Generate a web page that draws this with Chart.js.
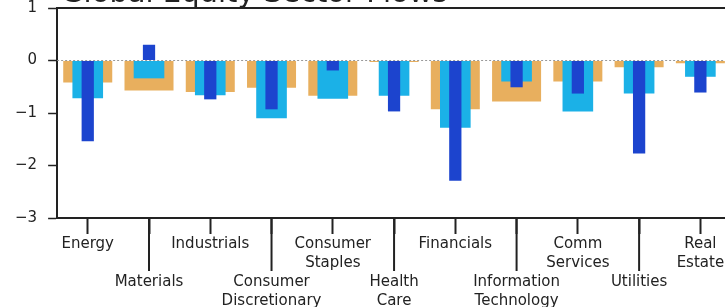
<!DOCTYPE html>
<html lang="en">
<head>
    <meta charset="UTF-8">
    <title>Global Equity Sector Flows</title>
    <script src="https://cdn.jsdelivr.net/npm/chart.js"></script>
    <style>
        html, body { margin: 0; padding: 0; background: #fff; overflow: hidden; width: 725px; height: 307px; }
        #wrap { position: absolute; left: 0; top: -30px; width: 770px; height: 345px; }
    </style>
</head>
<body>
    <div id="wrap"><canvas id="myChart" width="770" height="345"></canvas></div>
    <script>
        const titleText = "Global Equity Sector Flows";
        const categories = ["Energy", "Materials", "Industrials", "Consumer Discretionary", "Consumer Staples",
            "Health Care", "Financials", "Information Technology", "Comm Services", "Utilities", "Real Estate"];
        const wideValues = [-0.42, -0.57, -0.60, -0.52, -0.67, -0.03, -0.93, -0.78, -0.40, -0.13, -0.05];
        const midValues = [-0.72, -0.34, -0.66, -1.10, -0.73, -0.67, -1.28, -0.40, -0.97, -0.63, -0.31];
        const narrowValues = [-1.54, 0.30, -0.74, -0.93, -0.19, -0.97, -2.29, -0.51, -0.63, -1.77, -0.61];
        const yTicks = [1, 0, -1, -2, -3];

        const axisColor = "#222";

        // top spine, dotted zero line, long ticks for the second label row, title
        const extras = {
            id: "extras",
            beforeDatasetsDraw(chart) {
                const { ctx, chartArea, scales } = chart;
                const y0 = scales.y.getPixelForValue(0);
                ctx.save();
                ctx.strokeStyle = "#999";
                ctx.lineWidth = 1;
                ctx.setLineDash([2, 2]);
                ctx.beginPath();
                ctx.moveTo(chartArea.left, y0);
                ctx.lineTo(chartArea.right, y0);
                ctx.stroke();
                ctx.restore();
            },
            afterDraw(chart) {
                const { ctx, chartArea, scales } = chart;
                const x = scales.x;
                ctx.save();
                ctx.strokeStyle = axisColor;
                ctx.lineWidth = 2;
                ctx.beginPath();
                ctx.moveTo(chartArea.left - 1, chartArea.top);
                ctx.lineTo(chartArea.right, chartArea.top);
                ctx.stroke();
                x.ticks.forEach((t, i) => {
                    if (i % 2 === 1) {
                        const px = x.getPixelForTick(i);
                        ctx.beginPath();
                        ctx.moveTo(px, x.top);
                        ctx.lineTo(px, x.top + 53);
                        ctx.stroke();
                    }
                });
                ctx.fillStyle = axisColor;
                ctx.font = "29px 'DejaVu Sans'";
                ctx.textAlign = "left";
                ctx.textBaseline = "alphabetic";
                ctx.fillText(titleText, chartArea.left + 4, chartArea.top - 6);
                ctx.restore();
            }
        };

        const ctx = document.getElementById("myChart").getContext("2d");
        new Chart(ctx, {
            type: "bar",
            data: {
                labels: categories,
                datasets: [
                    { label: "Wide", data: wideValues, backgroundColor: "#E8AF5E", barPercentage: 0.8, order: 3 },
                    { label: "Mid", data: midValues, backgroundColor: "#1BB1E7", barPercentage: 0.5, order: 2 },
                    { label: "Narrow", data: narrowValues, backgroundColor: "#1C44CE", barPercentage: 0.2, order: 1 }
                ]
            },
            options: {
                responsive: false,
                animation: false,
                datasets: { bar: { grouped: false, categoryPercentage: 1, borderWidth: 0 } },
                layout: { padding: { top: 38, left: 4, right: 39, bottom: 4 } },
                plugins: {
                    legend: { display: false },
                    tooltip: { enabled: false },
                    title: { display: false }
                },
                scales: {
                    x: {
                        offset: true,
                        border: { display: true, color: axisColor, width: 2 },
                        grid: { display: true, offset: false, drawOnChartArea: false, drawTicks: true, tickLength: 16, tickColor: axisColor, tickWidth: 2 },
                        ticks: {
                            autoSkip: false,
                            maxRotation: 0,
                            minRotation: 0,
                            padding: 1,
                            color: axisColor,
                            font: { family: "DejaVu Sans", size: 15, lineHeight: 1.25 },
                            callback: function(value, index) {
                                const lines = categories[index].split(" ");
                                return index % 2 === 1 ? ["", ""].concat(lines) : lines;
                            }
                        }
                    },
                    y: {
                        min: -3,
                        max: 1,
                        afterBuildTicks: axis => { axis.ticks = yTicks.map(v => ({ value: v })); },
                        border: { display: true, color: axisColor, width: 2 },
                        grid: { display: true, drawOnChartArea: false, drawTicks: true, tickLength: 9, tickColor: axisColor, tickWidth: 1.5 },
                        ticks: {
                            padding: 11,
                            color: axisColor,
                            font: { family: "DejaVu Sans", size: 15 },
                            callback: v => String(v).replace("-", "\u2212")
                        }
                    }
                }
            },
            plugins: [extras]
        });
    </script>
</body>
</html>
